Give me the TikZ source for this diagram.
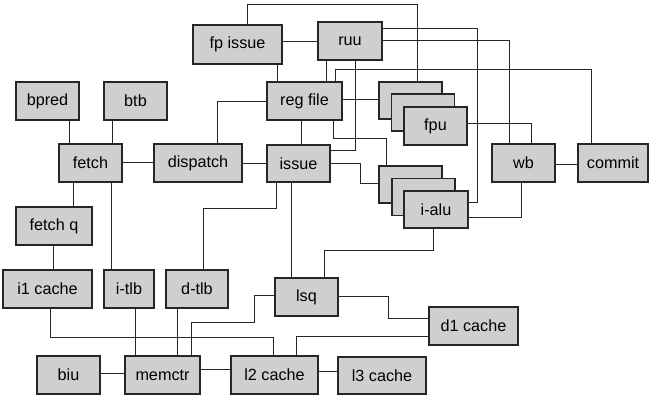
\documentclass[tikz,border=0pt]{standalone}
\usepackage{fontspec}
\setmainfont{Liberation Sans}
\begin{document}
\begin{tikzpicture}[x=1pt,y=-1pt,
  box/.style={draw=black!85, fill=black!19, line width=1.6pt, inner sep=0pt,
    minimum height=38pt, font=\fontsize{16.2}{19}\selectfont},
  wire/.style={draw=black!85, line width=1pt}]
\useasboundingbox (0,0) rectangle (650,401);
% stacks (back boxes first)
\node[box, minimum width=63pt, minimum height=37pt] (fpuA) at (410.5,100.5) {};
\node[box, minimum width=63pt, minimum height=37pt] (fpuB) at (423,112.5) {};
\node[box, minimum width=63pt] (fpu) at (435.5,126) {fpu};
\node[box, minimum width=63pt, minimum height=37pt] (aluA) at (410.5,184.5) {};
\node[box, minimum width=63pt, minimum height=37pt] (aluB) at (423.5,197) {};
\node[box, minimum width=64pt, minimum height=37pt] (alu) at (436,209.5) {i-alu};
% other nodes
\node[box, minimum width=89pt, minimum height=39pt] (fpissue) at (237.5,44.5) {fp issue};
\node[box, minimum width=64pt] (ruu) at (350,41) {ruu};
\node[box, minimum width=75pt] (regfile) at (304.5,101) {reg file};
\node[box, minimum width=63pt, minimum height=37pt] (issue) at (298.5,163.5) {issue};
\node[box, minimum width=88pt] (dispatch) at (198,163) {dispatch};
\node[box, minimum width=63pt] (fetch) at (90.5,163) {fetch};
\node[box, minimum width=63pt] (bpred) at (47.5,101) {bpred};
\node[box, minimum width=63pt] (btb) at (135.5,101) {btb};
\node[box, minimum width=76pt] (fetchq) at (54,226) {fetch q};
\node[box, minimum width=89pt] (i1cache) at (47.5,289) {i1 cache};
\node[box, minimum width=50pt] (itlb) at (129,289) {i-tlb};
\node[box, minimum width=62pt] (dtlb) at (197,289) {d-tlb};
\node[box, minimum width=63pt] (lsq) at (306.5,297) {lsq};
\node[box, minimum width=89pt] (d1cache) at (473.5,326) {d1 cache};
\node[box, minimum width=63pt] (biu) at (68.5,375) {biu};
\node[box, minimum width=75pt] (memctr) at (162.5,375) {memctr};
\node[box, minimum width=87pt] (l2cache) at (274.5,375) {l2 cache};
\node[box, minimum width=88pt, minimum height=37pt] (l3cache) at (382,375.5) {l3 cache};
\node[box, minimum width=63pt] (wb) at (523.5,163) {wb};
\node[box, minimum width=70pt] (commit) at (613,163) {commit};
% connectors
\begin{scope}[wire]
\draw (fpissue.north -| 247,0) -- (247,5) -| (fpuA.north -| 417,0);
\draw (fpissue.east |- 0,42) -- (ruu.west |- 0,42);
\draw (fpissue.south -| 277,0) -- (regfile.north -| 277,0);
\draw (ruu.south -| 326,0) -- (regfile.north -| 326,0);
\draw (ruu.south -| 355,0) |- (issue.east |- 0,150);
\draw (regfile.north -| 335,0) -- (335,70) -| (commit.north -| 591,0);
\draw (ruu.east |- 0,29) -- (477,29) |- (alu.east |- 0,202);
\draw (ruu.east |- 0,41) -| (wb.north -| 509,0);
\draw (regfile.east |- 0,100) -- (fpuA.west |- 0,100);
\draw (regfile.south -| 301,0) -- (issue.north -| 301,0);
\draw (regfile.south -| 333,0) -- (333,138) -| (aluA.north -| 386,0);
\draw (issue.east |- 0,163) -- (360,163) |- (aluA.west |- 0,183);
\draw (dispatch.north -| 217,0) |- (regfile.west |- 0,102);
\draw (dispatch.east |- 0,163) -- (issue.west |- 0,163);
\draw (fetch.east |- 0,162) -- (dispatch.west |- 0,162);
\draw (bpred.south -| 69,0) -- (fetch.north -| 69,0);
\draw (btb.south -| 112,0) -- (fetch.north -| 112,0);
\draw (fetch.south -| 73,0) -- (fetchq.north -| 73,0);
\draw (fetch.south -| 111,0) -- (itlb.north -| 111,0);
\draw (fetchq.south -| 53,0) -- (i1cache.north -| 53,0);
\draw (issue.south -| 276,0) -- (276,208) -| (dtlb.north -| 203,0);
\draw (issue.south -| 291,0) -- (lsq.north -| 291,0);
\draw (alu.south -| 433,0) -- (433,250) -| (lsq.north -| 324,0);
\draw (lsq.east |- 0,296) -- (388,296) |- (d1cache.west |- 0,318);
\draw (lsq.west |- 0,295) -- (254,295) |- (191,322) -- (memctr.north -| 191,0);
\draw (itlb.south -| 135,0) -- (memctr.north -| 135,0);
\draw (dtlb.south -| 177,0) -- (memctr.north -| 177,0);
\draw (i1cache.south -| 50,0) |- (273,337) -- (l2cache.north -| 273,0);
\draw (d1cache.west |- 0,336) -| (l2cache.north -| 296,0);
\draw (biu.east |- 0,373) -- (memctr.west |- 0,373);
\draw (memctr.east |- 0,369) -- (l2cache.west |- 0,369);
\draw (l2cache.east |- 0,371) -- (l3cache.west |- 0,371);
\draw (fpu.east |- 0,124) -| (wb.north -| 531,0);
\draw (alu.east |- 0,217) -| (wb.south -| 521,0);
\draw (wb.east |- 0,164) -- (commit.west |- 0,164);
\end{scope}
\end{tikzpicture}
\end{document}
